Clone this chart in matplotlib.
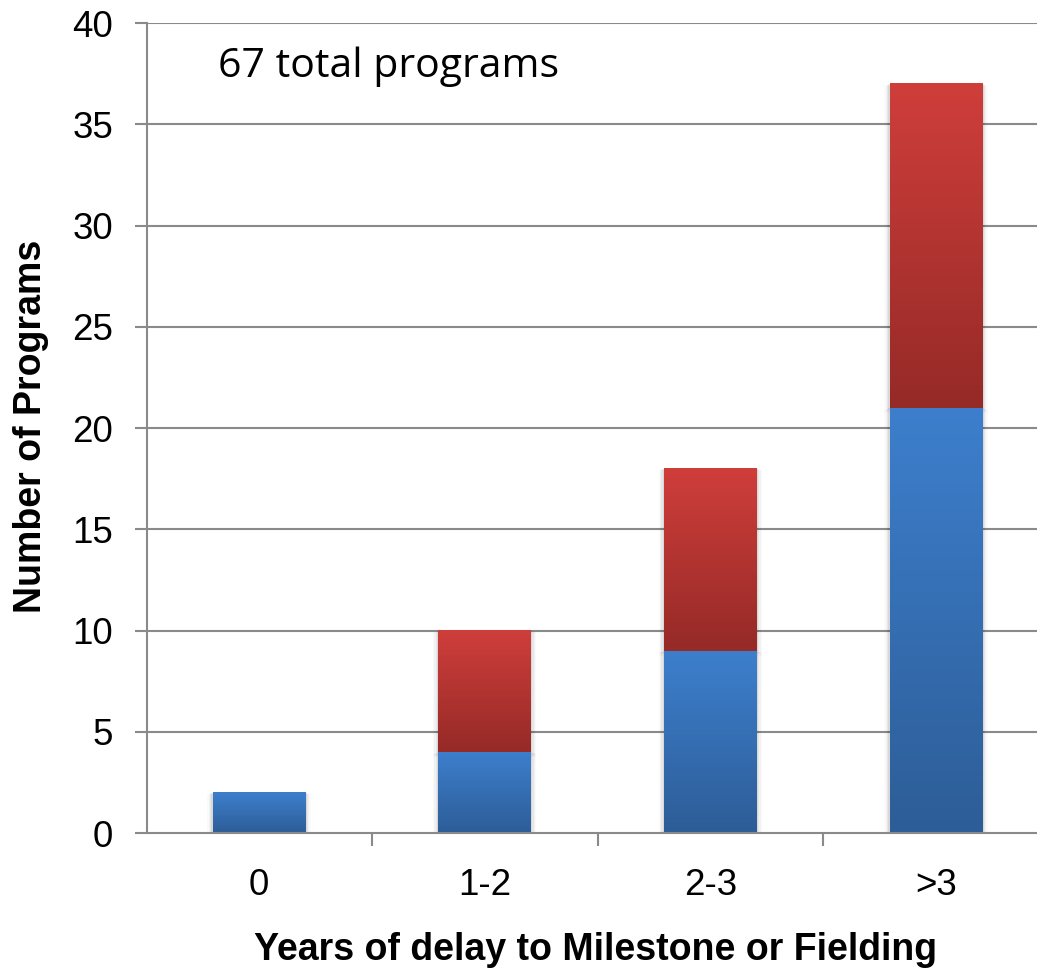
import numpy as np
import matplotlib
matplotlib.use("Agg")
import matplotlib.pyplot as plt
from matplotlib.colors import LinearSegmentedColormap
from matplotlib.patches import Rectangle

categories = ["0", "1-2", "2-3", ">3"]
blue_vals = [2, 4, 9, 21]
red_vals = [0, 6, 9, 16]
yticks = [0, 5, 10, 15, 20, 25, 30, 35, 40]

blue_cmap = LinearSegmentedColormap.from_list("b", ["#2d5d97", "#3d7fcd"])
red_cmap = LinearSegmentedColormap.from_list("r", ["#952a27", "#cf3e3b"])

plt.rcParams["font.family"] = ["Liberation Sans", "DejaVu Sans"]

fig = plt.figure(figsize=(10.37, 9.71), dpi=100)
ax = fig.add_axes([0.1418, 0.1421, 0.8582, 0.8342])

xlim = (-0.496, 3.447)
ylim = (0, 40)
ax.set_xlim(*xlim)
ax.set_ylim(*ylim)

grid_c = "#8a8a8a"
for t in yticks[1:]:
    ax.axhline(t, color=grid_c, lw=1.5, zorder=1)

width = 0.41
grad = np.linspace(0, 1, 256).reshape(-1, 1)


def gradient_segment(x, bottom, height, cmap):
    if height <= 0:
        return
    # soft glow-like drop shadow around the segment
    for i, a in enumerate([0.06, 0.045, 0.03, 0.02]):
        dx = 0.006 * (i + 1)
        dy = 0.06 * (i + 1)
        ax.add_patch(Rectangle((x - width / 2 - dx, bottom - dy),
                               width + 2 * dx, height + dy * 0.6,
                               facecolor="black", edgecolor="none",
                               alpha=a, zorder=2))
    ax.imshow(grad, cmap=cmap, origin="lower", aspect="auto",
              extent=[x - width / 2, x + width / 2, bottom, bottom + height],
              zorder=3, interpolation="bilinear")


for i, (b, r) in enumerate(zip(blue_vals, red_vals)):
    gradient_segment(i, 0, b, blue_cmap)
    gradient_segment(i, b, r, red_cmap)

ax.set_xlim(*xlim)
ax.set_ylim(*ylim)

for s in ["top", "right"]:
    ax.spines[s].set_visible(False)
ax.spines["left"].set_color(grid_c)
ax.spines["left"].set_linewidth(1.5)
ax.spines["bottom"].set_color(grid_c)
ax.spines["bottom"].set_linewidth(1.5)
ax.spines["bottom"].set_zorder(4)

ax.set_yticks(yticks)
ax.set_xticks(range(len(categories)))
ax.set_xticklabels(categories)
ax.xaxis.set_minor_locator(matplotlib.ticker.FixedLocator([-0.5, 0.5, 1.5, 2.5]))
ax.tick_params(axis="x", which="major", length=0, pad=25, labelsize=26.5)
ax.tick_params(axis="x", which="minor", length=9, width=1.5, color=grid_c)
ax.tick_params(axis="y", length=8.6, width=1.5, color=grid_c, labelsize=26.5, pad=16)

fig.text(0.574, 1 - 950 / 971, "Years of delay to Milestone or Fielding",
         fontsize=27, fontweight="bold", ha="center", va="center")
fig.text(31 / 1037, 1 - 426 / 971, "Number of Programs", fontsize=27,
         fontweight="bold", ha="center", va="center", rotation=90)

ax.text(-0.18, 37.33, "67 total programs", fontsize=29.5,
        family=["Open Sans", "DejaVu Sans"], ha="left", va="baseline", zorder=5)

fig.savefig("out.png", dpi=100)
